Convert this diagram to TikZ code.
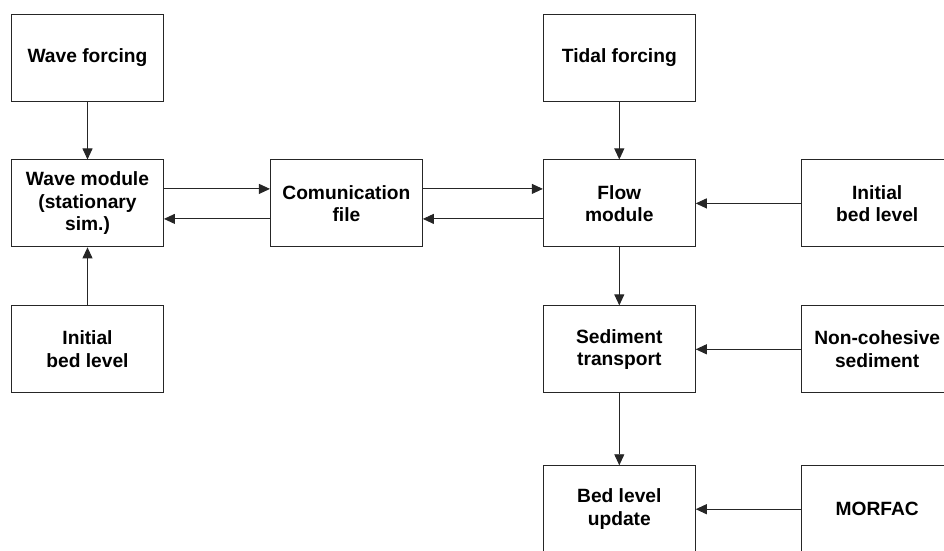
\documentclass[tikz,border=0pt]{standalone}
\usepackage{fontspec}
\setmainfont{Liberation Sans}
\usetikzlibrary{arrows.meta, positioning, calc}

\begin{document}
\begin{tikzpicture}[x=1pt, y=-1pt, node distance=58pt and 106pt,
    blok/.style={draw=black!85, line width=0.9pt, minimum width=152pt, minimum height=87pt, inner sep=0pt, align=center, font=\fontsize{19.2}{22.5}\selectfont\bfseries},
    pijl/.style={draw=black!85, line width=0.9pt, -{Triangle[length=11pt, width=10pt]}}]
    \useasboundingbox (0,0) rectangle (944,550);
    \clip (0,0) rectangle (944,550);
    \node[blok] (wave-forcing) at (87.5,57.5) {Wave forcing};
    \node[blok, below=of wave-forcing] (wave-module) {Wave module\\(stationary\\sim.)};
    \node[blok, below=of wave-module] (bed-left) {Initial\\bed level};
    \node[blok, right=106pt of wave-module] (comm-file) {Comunication\\file};
    \node[blok, right=120pt of comm-file] (flow-module) {Flow\\module};
    \node[blok, above=of flow-module] (tidal-forcing) {Tidal forcing};
    \node[blok, below=of flow-module] (sed-transport) {Sediment\\transport};
    \node[blok, below=72pt of sed-transport] (bed-update) {Bed level\\update};
    \node[blok, right=105pt of flow-module] (bed-right) {Initial\\bed level};
    \node[blok, right=105pt of sed-transport] (non-cohesive) {Non-cohesive\\sediment};
    \node[blok, right=105pt of bed-update] (morfac) {MORFAC};
    \draw[pijl] (wave-forcing) -- (wave-module);
    \draw[pijl] (bed-left) -- (wave-module);
    \draw[pijl] ([yshift=14.5pt] wave-module.east) -- ([yshift=14.5pt] comm-file.west);
    \draw[pijl] ([yshift=-15.5pt] comm-file.west) -- ([yshift=-15.5pt] wave-module.east);
    \draw[pijl] ([yshift=14.5pt] comm-file.east) -- ([yshift=14.5pt] flow-module.west);
    \draw[pijl] ([yshift=-15.5pt] flow-module.west) -- ([yshift=-15.5pt] comm-file.east);
    \draw[pijl] (tidal-forcing) -- (flow-module);
    \draw[pijl] (bed-right) -- (flow-module);
    \draw[pijl] (flow-module) -- (sed-transport);
    \draw[pijl] (non-cohesive) -- (sed-transport);
    \draw[pijl] (sed-transport) -- (bed-update);
    \draw[pijl] (morfac) -- (bed-update);
\end{tikzpicture}
\end{document}
